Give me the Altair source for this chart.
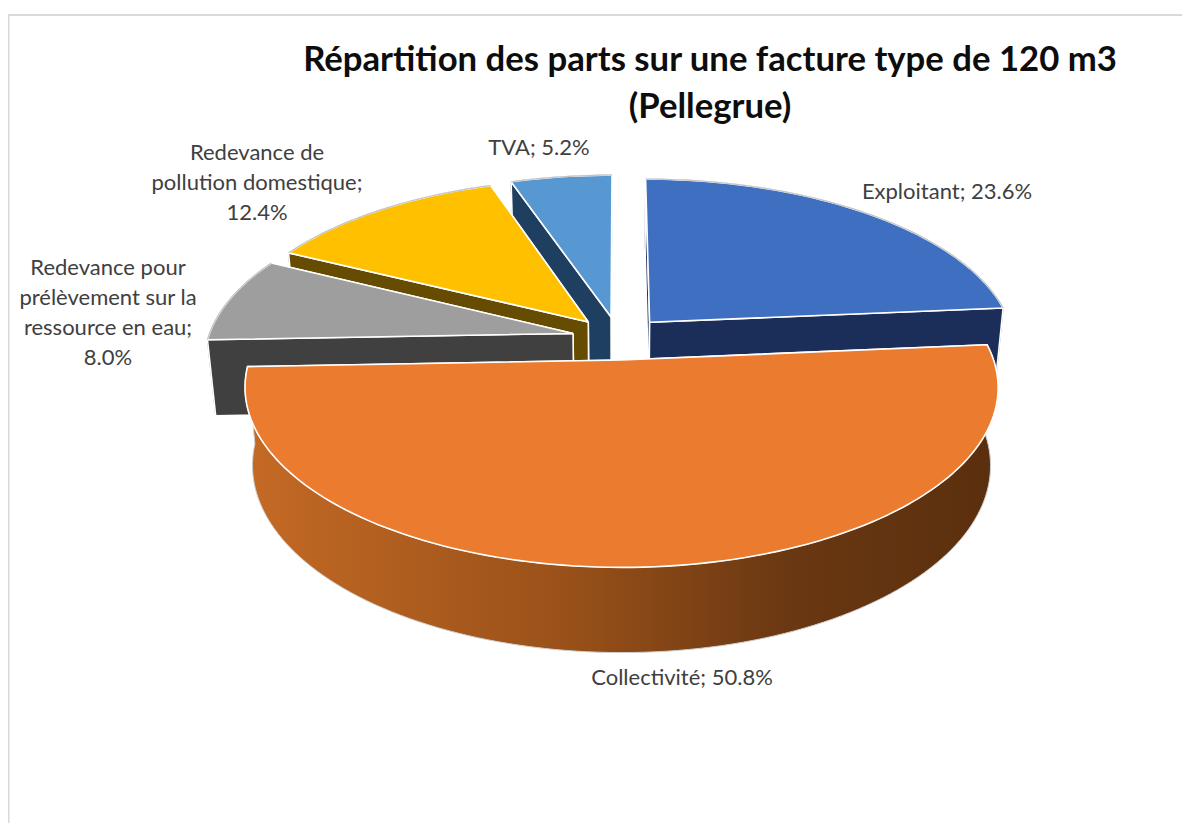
import math
import altair as alt
import pandas as pd

# ---- data ----
names = ["Exploitant", "Collectivité", "Redevance pour prélèvement sur la ressource en eau",
         "Redevance de pollution domestique", "TVA"]
shares = [23.6, 50.8, 8.0, 12.4, 5.2]
top_colors = ["#3F6FC0", "#EB7C2F", "#9E9E9E", "#FFC000", "#5797D2"]
side_colors = ["#1B2E5A", "#7A3F12", "#404040", "#664C00", "#1F3F60"]
draw_order = [4, 3, 2, 0, 1]

title_lines = ["Répartition des parts sur une facture type de 120 m3", "(Pellegrue)"]
label_texts = [
    ["Exploitant; 23.6%"],
    ["Collectivité; 50.8%"],
    ["Redevance pour", "prélèvement sur la", "ressource en eau;", "8.0%"],
    ["Redevance de", "pollution domestique;", "12.4%"],
    ["TVA; 5.2%"],
]
# label centre x / first line y, in page pixels
label_x = [947, 682, 108, 257, 539]
label_y = [192, 678, 268, 153, 148]

# ---- projection parameters of the 3-D pie ----
CX, CY, R, RT, K, EXPL = 618.5, 338.0, 365.0, 169.0, 0.15, 0.128
DEPTH, XS, YB = 76.0, 0.98, 1.04
W, H = 1174, 815


def project(px, py, bottom=False):
    f = 1 + K * py
    if bottom:
        return CX + XS * R * px / f, CY + DEPTH - RT * YB * py / f
    return CX + R * px / f, CY - RT * py / f


def rim(a0, a1, ox, oy, bottom=False):
    n = max(2, int(abs(a1 - a0) / 1.5))
    pts = []
    for j in range(n + 1):
        a = math.radians(a0 + (a1 - a0) * j / n)
        pts.append(project(ox + math.sin(a), oy + math.cos(a), bottom))
    return pts


def path(points, stroke, width, fill=None):
    df = pd.DataFrame({"x": [p[0] for p in points], "y": [p[1] for p in points], "i": range(len(points))})
    style = dict(stroke=stroke, strokeWidth=width, strokeJoin="round", interpolate="linear")
    if fill is not None:
        style["fill"] = fill
    return alt.Chart(df).mark_line(**style).encode(
        x=alt.X("x:Q", scale=alt.Scale(domain=[8, 8 + W], nice=False, zero=False), axis=None),
        y=alt.Y("y:Q", scale=alt.Scale(domain=[8, 8 + H], nice=False, zero=False, reverse=True), axis=None),
        order="i:Q",
    )


def poly(points, fill, stroke="#FFFFFF", width=1.6):
    return path(list(points) + [points[0]], stroke, width, fill)


orange_side = alt.Gradient(
    gradient="linear", x1=0, x2=1, y1=0, y2=0,
    stops=[
        alt.GradientStop(color="#C46A25", offset=0),
        alt.GradientStop(color="#9A5119", offset=0.42),
        alt.GradientStop(color="#6A3812", offset=0.72),
        alt.GradientStop(color="#5A2F0E", offset=1),
    ],
)

layers = []
starts = []
acc = 0.0
for s in shares:
    starts.append(acc)
    acc += s * 3.6

for idx in draw_order:
    a0 = starts[idx]
    a1 = a0 + shares[idx] * 3.6
    mid = math.radians((a0 + a1) / 2)
    ox, oy = EXPL * math.sin(mid), EXPL * math.cos(mid)
    apex_t = project(ox, oy)
    apex_b = project(ox, oy, True)
    wall = rim(a0, a1, ox, oy) + rim(a0, a1, ox, oy, True)[::-1]
    if idx != 1:
        layers.append(poly(wall, side_colors[idx], stroke=side_colors[idx], width=1))
    # radial side faces, the one facing the viewer last
    faces = (a0, a1) if math.sin(mid) > 0 else (a1, a0)
    for a in faces:
        rt = rim(a, a, ox, oy)[0]
        rb = rim(a, a, ox, oy, True)[0]
        layers.append(poly([apex_t, rt, rb, apex_b], side_colors[idx]))
    if idx == 1:
        layers.append(poly(wall, orange_side, stroke="#CFCFCF", width=1))
    # top face with a fine grey line on its outer rim
    layers.append(poly([apex_t] + rim(a0, a1, ox, oy), top_colors[idx]))
    if idx != 1:
        layers.append(path(rim(a0, a1, ox, oy), "#C4C4C4", 1.2))

# ---- chart frame ----
frame_color = "#D9D9D9"
layers.append(alt.Chart(pd.DataFrame({"a": [0]})).mark_rule(color=frame_color, strokeWidth=2).encode(
    x=alt.value(0.5), y=alt.value(7), y2=alt.value(H)))
layers.append(alt.Chart(pd.DataFrame({"a": [0]})).mark_rule(color=frame_color, strokeWidth=2).encode(
    x=alt.value(0), x2=alt.value(W), y=alt.value(7)))

# ---- title and labels ----
for line, ty in zip(title_lines, [61, 108]):
    layers.append(alt.Chart(pd.DataFrame({"t": [line]})).mark_text(
        font="Lato", fontWeight="bold", fontSize=34.7, color="#0D0D0D", align="center", baseline="middle"
    ).encode(text="t:N", x=alt.value(710 - 8), y=alt.value(ty - 8)))

for lines, lx, ly in zip(label_texts, label_x, label_y):
    for j, line in enumerate(lines):
        layers.append(alt.Chart(pd.DataFrame({"t": [line]})).mark_text(
            font="Lato", fontSize=22, color="#404040", align="center", baseline="middle"
        ).encode(text="t:N", x=alt.value(lx - 8), y=alt.value(ly + 30 * j - 8)))

chart = alt.layer(*layers).properties(
    width=W, height=H, padding=0, autosize=alt.AutoSizeParams(type="none"), background="#FFFFFF"
).configure_view(strokeWidth=0)

chart.save("out.html", embed_options={"renderer": "svg", "actions": False})
